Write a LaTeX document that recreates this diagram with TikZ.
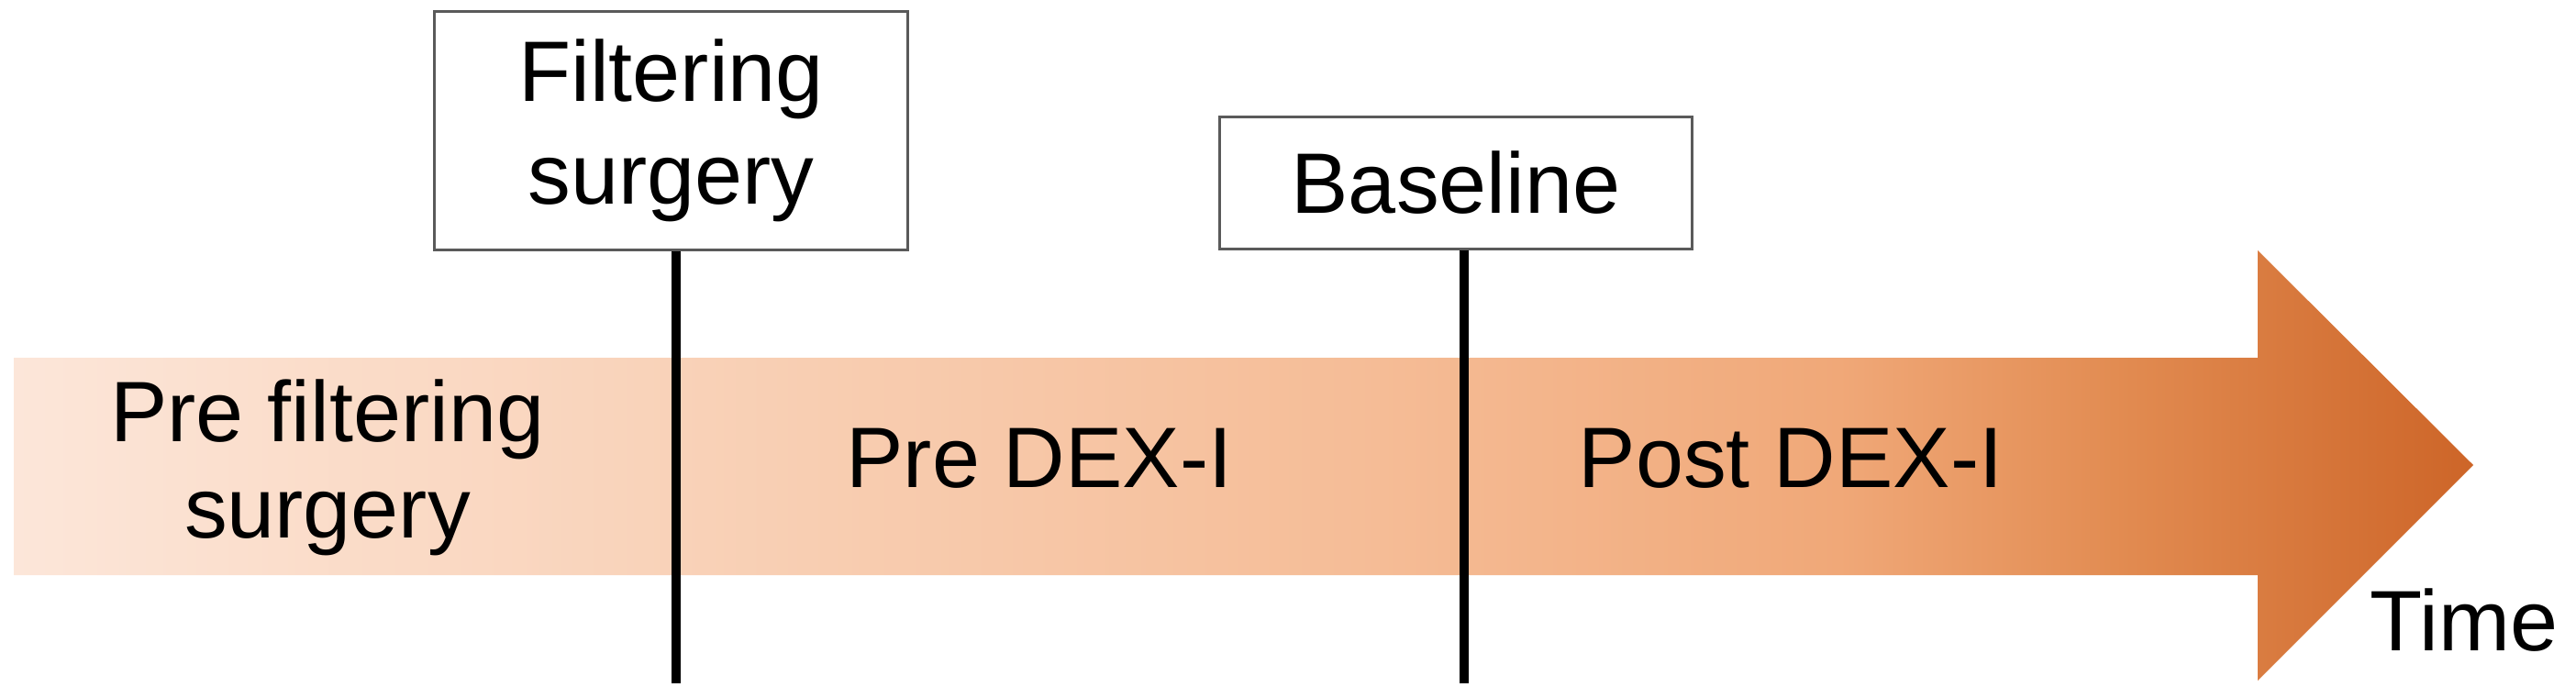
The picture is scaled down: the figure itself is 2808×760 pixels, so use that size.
\documentclass[tikz,border=0pt]{standalone}
\usepackage{fontspec}
\setmainfont{Liberation Sans}
\usetikzlibrary{calc}
\definecolor{c0}{RGB}{252,230,217}
\definecolor{c1}{RGB}{249,211,186}
\definecolor{c2}{RGB}{245,188,150}
\definecolor{c3}{RGB}{240,168,120}
\definecolor{c4}{RGB}{226,140,82}
\definecolor{c5}{RGB}{205,101,40}
\definecolor{boxline}{RGB}{90,90,90}
\pgfdeclarehorizontalshading{timeshade}{100bp}{color(0bp)=(c0); color(25bp)=(c0); color(37.8bp)=(c1); color(52.8bp)=(c2); color(62.1bp)=(c3); color(67.7bp)=(c4); color(75bp)=(c5); color(100bp)=(c5)}
\tikzset{
  labelbox/.style={draw=boxline, line width=0.85pt, fill=white, inner sep=0pt, align=center,
    font=\fontsize{26.6}{31.9}\selectfont},
  phase/.style={inner sep=0pt, align=center, font=\fontsize{26.6}{30}\selectfont},
  marker/.style={line width=3pt, black}
}
\begin{document}
\begin{tikzpicture}[x=0.01cm,y=-0.01cm]
\useasboundingbox (0,0) rectangle (2808,760);
% time arrow
\path[shading=timeshade] (15,390) -- (2461,390) -- (2461,273) -- (2696,507) -- (2461,742) -- (2461,627) -- (15,627) -- cycle;
% label boxes
\node[labelbox, minimum width=5.15cm, minimum height=2.59cm] (fs) at (731.5,142.5) {Filtering\\surgery};
\node[labelbox, minimum width=5.14cm, minimum height=1.43cm] (bl) at (1587,199.5) {Baseline};
% marker lines
\coordinate (e1) at (737,745);
\coordinate (e2) at (1596,745);
\draw[marker] (e1 |- fs.south) -- (e1);
\draw[marker] (e2 |- bl.south) -- (e2);
% phase labels
\node[phase] (p1) at (357,510) {Pre filtering\\surgery};
\node[phase] (p2) at (1133,500) {Pre DEX-I};
\node[phase] (p3) at (1952,500) {Post DEX-I};
\node[phase] (tm) at (2686,676) {Time};
\end{tikzpicture}
\end{document}
